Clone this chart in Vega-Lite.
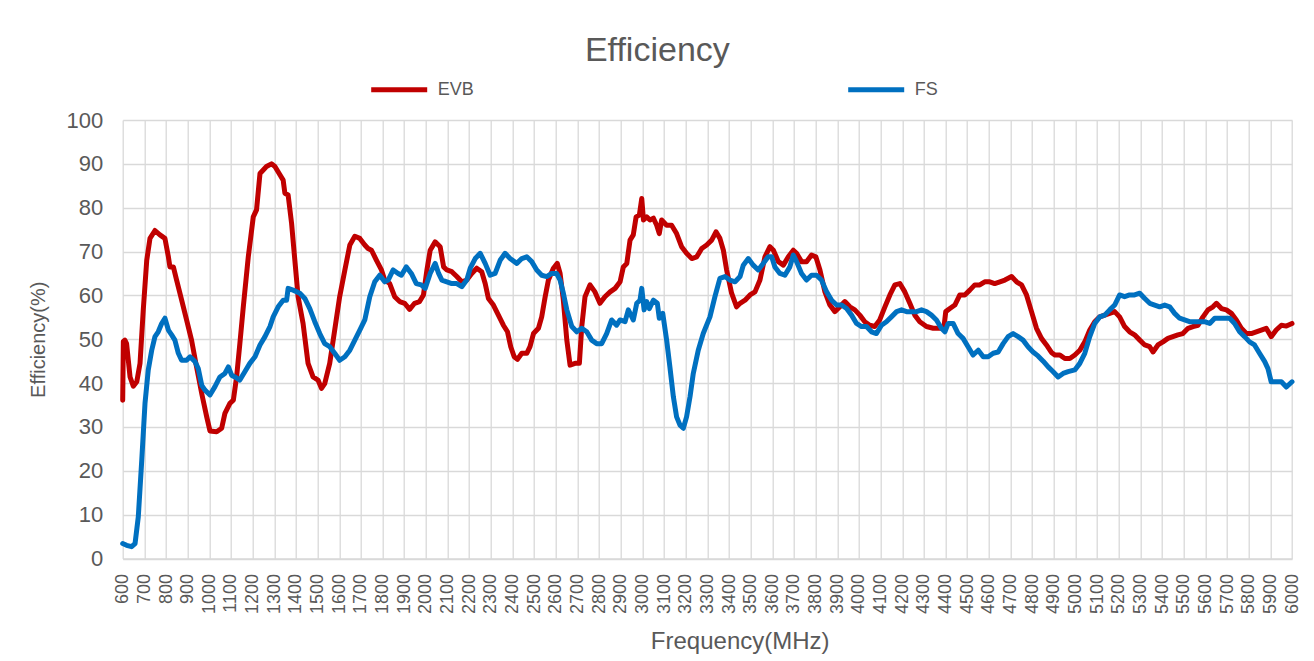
{
  "$schema": "https://vega.github.io/schema/vega-lite/v6.json",
  "autosize": {"type": "none"},
  "width": 1169.3,
  "height": 438.5,
  "padding": {"left": 122.7, "top": 120, "right": 22, "bottom": 102.5},
  "background": "white",
  "title": {"text": "Efficiency", "anchor": "middle", "frame": "group", "dx": -50, "offset": -9, "fontSize": 34, "fontWeight": "normal", "color": "#595959", "font": "Liberation Sans"},
  "datasets": {
    "evb": [[600,36.1],[603,49.5],[610,49.8],[618,49.0],[634,41.4],[649,39.3],[665,40.3],[680,44.5],[695,56.7],[711,68],[726,73],[749,74.8],[772,73.8],[795,73],[811,68.8],[818,66.5],[834,66.5],[849,63.5],[872,59],[895,54.4],[918,49.8],[941,43.7],[965,37.6],[988,32.3],[1003,29.1],[1034,28.9],[1057,29.7],[1072,33.1],[1095,35.4],[1111,36.1],[1126,41.4],[1141,49],[1157,57.4],[1180,68.8],[1203,77.9],[1218,79.5],[1234,87.8],[1249,88.6],[1264,89.4],[1287,90],[1303,89.4],[1326,87.5],[1341,86.3],[1349,83.3],[1364,82.9],[1380,76.4],[1395,68],[1410,59.7],[1433,53.6],[1456,44.5],[1479,41.4],[1502,40.7],[1518,38.8],[1533,39.9],[1556,44.5],[1579,52.1],[1602,59.7],[1626,65.8],[1649,71.5],[1672,73.5],[1695,73],[1718,71.5],[1733,70.7],[1749,70.3],[1772,68],[1795,65.8],[1810,63.5],[1833,62.7],[1856,59.7],[1879,58.6],[1902,58.2],[1925,56.8],[1948,58.2],[1971,58.6],[1989,60.1],[2005,65.8],[2020,70.3],[2043,72.2],[2066,71.1],[2082,66.5],[2097,65.8],[2120,65.4],[2143,64.3],[2166,63.1],[2189,63.5],[2212,65],[2235,66.2],[2258,65.4],[2274,62.7],[2289,59.3],[2312,57.8],[2335,55.5],[2358,53.2],[2377,51.7],[2392,48.3],[2408,46],[2423,45.4],[2443,46.8],[2466,46.8],[2481,48.3],[2497,51.3],[2520,52.5],[2535,55.1],[2551,59.7],[2566,63.5],[2589,66.2],[2607,67.3],[2620,65],[2635,58.9],[2651,49.8],[2666,44.1],[2689,44.5],[2709,44.5],[2720,52.9],[2735,59.7],[2758,62.4],[2781,60.8],[2804,58.2],[2827,59.7],[2851,60.8],[2874,61.6],[2897,63.1],[2912,66.5],[2928,67.3],[2943,72.6],[2958,73.8],[2971,77.9],[2986,78.3],[2997,82.1],[3005,77.2],[3020,77.9],[3035,77.2],[3051,77.6],[3066,76],[3078,74.1],[3089,77.2],[3112,76],[3135,76],[3158,74.1],[3181,71.1],[3204,69.6],[3228,68.4],[3251,68.8],[3274,70.7],[3297,71.5],[3320,72.6],[3340,74.5],[3358,73],[3374,70.3],[3389,65.8],[3412,60.5],[3435,57.4],[3451,58.2],[3474,58.9],[3497,60.1],[3520,60.8],[3543,63.5],[3566,68.8],[3589,71.1],[3605,70.3],[3628,67.7],[3651,66.9],[3674,68.8],[3697,70.3],[3712,69.6],[3735,67.7],[3758,67.7],[3781,69.2],[3801,68.8],[3820,65.8],[3843,60.8],[3866,57.8],[3889,56.3],[3912,57.4],[3935,58.6],[3958,57.4],[3981,56.7],[4004,55.5],[4027,54],[4050,53.2],[4073,52.9],[4096,54.4],[4120,57.4],[4143,60.1],[4166,62.4],[4189,62.7],[4212,60.8],[4235,58.2],[4258,55.5],[4281,54],[4312,52.9],[4343,52.5],[4374,52.5],[4392,52.5],[4401,56.3],[4420,57],[4443,57.8],[4466,60.1],[4489,60.1],[4512,61.2],[4535,62.4],[4558,62.4],[4581,63.1],[4604,63.1],[4627,62.7],[4651,63.1],[4674,63.5],[4705,64.3],[4728,63.1],[4751,62.4],[4774,60.1],[4797,56.3],[4820,52.5],[4843,50.2],[4866,48.7],[4889,47],[4905,46.4],[4928,46.4],[4951,45.6],[4974,45.6],[4997,46.4],[5020,47.5],[5043,49.4],[5066,52.1],[5089,54],[5112,55.1],[5135,55.5],[5158,55.9],[5181,56.3],[5204,55.1],[5227,52.9],[5250,51.7],[5273,51],[5297,49.8],[5320,48.7],[5343,48.3],[5358,47.1],[5381,48.7],[5404,49.4],[5427,50.2],[5450,50.6],[5473,51],[5496,51.3],[5520,52.5],[5543,52.9],[5566,53.2],[5589,55.1],[5612,56.7],[5635,57.4],[5651,58.2],[5674,57],[5697,56.7],[5720,55.9],[5743,54.4],[5766,52.5],[5789,51.3],[5812,51.3],[5835,51.7],[5858,52.1],[5881,52.5],[5904,50.6],[5927,52.1],[5951,53.2],[5974,53],[6000,53.6]],
    "fs": [[600,3.4],[618,3.0],[641,2.7],[657,3.4],[672,9.5],[688,22.4],[703,35.4],[718,43],[734,47.5],[749,50.6],[764,51.7],[780,53.6],[795,54.8],[811,52.1],[826,51],[841,49.8],[857,46.8],[872,45.2],[895,45.2],[911,46],[934,44.9],[949,43.3],[965,39.5],[980,38.4],[1003,37.3],[1026,39.2],[1049,41.4],[1072,42.2],[1088,43.7],[1103,41.8],[1118,41.4],[1141,40.7],[1164,42.6],[1187,44.5],[1211,46],[1234,48.7],[1257,50.6],[1280,52.9],[1295,55.1],[1318,57.4],[1341,58.9],[1357,58.9],[1364,61.6],[1387,61.2],[1418,60.5],[1441,59.3],[1464,57],[1487,54],[1510,51.3],[1533,49],[1556,48.3],[1579,46.8],[1602,45.2],[1626,46],[1649,47.5],[1672,49.8],[1695,52.1],[1718,54.4],[1741,59.7],[1764,63.1],[1787,64.6],[1810,63.1],[1826,63.5],[1849,65.8],[1872,65],[1887,64.6],[1910,66.5],[1933,65],[1956,62.7],[1979,62.4],[1997,61.6],[2020,65],[2043,67.3],[2059,65],[2074,63.5],[2097,63.1],[2120,62.7],[2143,62.7],[2166,62],[2189,63.5],[2205,66.2],[2228,68.4],[2251,69.6],[2274,67.3],[2297,64.6],[2320,65],[2343,68],[2366,69.6],[2389,68.4],[2420,67.3],[2443,68.4],[2466,68.8],[2489,67.7],[2512,65.8],[2535,64.6],[2558,64.3],[2581,65],[2604,65],[2620,63.5],[2635,60.5],[2651,56.7],[2674,52.9],[2697,51.7],[2720,52.5],[2743,51.7],[2766,49.8],[2789,49],[2812,49],[2835,51.3],[2858,54.4],[2881,53.2],[2897,54.4],[2920,54],[2935,56.7],[2958,54.4],[2974,58.2],[2989,58.9],[2997,61.6],[3008,56.7],[3020,58.6],[3032,57],[3051,58.9],[3069,58.2],[3078,54.8],[3094,55.9],[3112,49.8],[3127,43.7],[3143,36.9],[3158,32.3],[3174,30.4],[3189,29.7],[3204,32.3],[3220,36.9],[3235,42.2],[3258,47.5],[3281,51.3],[3312,55.1],[3335,59.7],[3358,63.9],[3381,64.3],[3404,63.5],[3428,63.1],[3451,64.3],[3466,66.9],[3489,68.4],[3512,66.9],[3535,65.8],[3558,67.3],[3581,68.8],[3597,68.8],[3612,66.5],[3635,65],[3658,64.6],[3681,66.5],[3697,69.2],[3712,67.7],[3735,65],[3758,63.5],[3781,64.6],[3804,64.6],[3827,63.5],[3851,60.8],[3874,58.9],[3897,57.8],[3920,57.8],[3943,57],[3966,55.5],[3989,53.6],[4012,52.9],[4035,52.9],[4058,51.7],[4081,51.3],[4104,53.2],[4127,54],[4150,55.1],[4174,56.3],[4197,56.7],[4220,56.3],[4243,56.3],[4266,56.3],[4289,56.7],[4312,56.3],[4335,55.5],[4358,54.4],[4381,52.5],[4397,51.7],[4412,53.6],[4435,53.6],[4458,51.3],[4481,50.2],[4504,48.3],[4527,46.4],[4551,47.5],[4574,46],[4597,46],[4620,46.8],[4643,47.1],[4666,49],[4689,50.6],[4712,51.3],[4735,50.6],[4758,49.8],[4781,48.3],[4804,47.1],[4827,46.2],[4851,45],[4874,43.7],[4897,42.6],[4920,41.4],[4943,42.2],[4966,42.6],[4997,43],[5020,44.5],[5043,46.8],[5066,50.6],[5089,53.6],[5112,55.1],[5135,55.5],[5158,56.7],[5181,57.8],[5204,60.1],[5227,59.7],[5250,60.1],[5273,60.1],[5297,60.5],[5320,59.3],[5343,58.2],[5366,57.8],[5389,57.4],[5412,57.8],[5435,57.4],[5458,55.9],[5481,54.8],[5504,54.4],[5527,54],[5550,54],[5573,54],[5596,54],[5620,53.6],[5643,54.8],[5666,54.8],[5689,54.8],[5712,54.8],[5735,53.6],[5758,51.7],[5781,50.6],[5804,49.4],[5827,48.7],[5850,46.8],[5874,44.9],[5889,43.3],[5904,40.3],[5927,40.3],[5951,40.3],[5974,39.1],[6000,40.3]]
  },
  "layer": [
    {
      "data": {"name": "evb"},
      "transform": [{"calculate": "'EVB'", "as": "s"}, {"calculate": "datum[0]", "as": "f"}, {"calculate": "datum[1]", "as": "v"}],
      "mark": {"type": "line", "strokeWidth": 5, "strokeJoin": "round", "strokeCap": "round"}
    },
    {
      "data": {"name": "fs"},
      "transform": [{"calculate": "'FS'", "as": "s"}, {"calculate": "datum[0]", "as": "f"}, {"calculate": "datum[1]", "as": "v"}],
      "mark": {"type": "line", "strokeWidth": 5, "strokeJoin": "round", "strokeCap": "round"}
    }
  ],
  "encoding": {
    "x": {"field": "f", "type": "quantitative",
      "scale": {"domain": [600, 6000], "nice": false, "zero": false},
      "axis": {"title": "Frequency(MHz)", "values": [600,700,800,900,1000,1100,1200,1300,1400,1500,1600,1700,1800,1900,2000,2100,2200,2300,2400,2500,2600,2700,2800,2900,3000,3100,3200,3300,3400,3500,3600,3700,3800,3900,4000,4100,4200,4300,4400,4500,4600,4700,4800,4900,5000,5100,5200,5300,5400,5500,5600,5700,5800,5900,6000],
        "labelAngle": -90, "labelFontSize": 18, "labelPadding": 15, "format": "d", "labelOverlap": false, "labelFlush": false,
        "titleFontSize": 24, "titleX": 617, "titleY": 90, "titleBaseline": "alphabetic", "titleAlign": "center"}
    },
    "y": {"field": "v", "type": "quantitative",
      "scale": {"domain": [0, 100], "nice": false},
      "axis": {"title": "Efficiency(%)", "values": [0,10,20,30,40,50,60,70,80,90,100], "labelFontSize": 22, "labelPadding": 20, "domain": false,
        "titleFontSize": 20, "titleX": -78, "titleBaseline": "alphabetic"}
    },
    "color": {"field": "s", "type": "nominal",
      "scale": {"domain": ["EVB", "FS"], "range": ["#C00000", "#0070C0"]},
      "legend": {"title": null, "orient": "none", "legendX": 246, "legendY": -61, "direction": "horizontal",
        "symbolType": "stroke", "symbolSize": 3136, "symbolStrokeWidth": 5, "labelFontSize": 18, "columnPadding": 363, "labelOffset": 8, "padding": 0}
    }
  },
  "config": {
    "view": {"stroke": null},
    "font": "Liberation Sans",
    "axis": {"grid": true, "gridColor": "#d9d9d9", "gridWidth": 1.3, "ticks": false, "domainColor": "#d9d9d9", "domainWidth": 1.3,
      "labelColor": "#595959", "titleColor": "#595959", "titleFontWeight": "normal", "labelFont": "Liberation Sans", "titleFont": "Liberation Sans"},
    "legend": {"labelColor": "#595959", "labelFont": "Liberation Sans"}
  }
}
